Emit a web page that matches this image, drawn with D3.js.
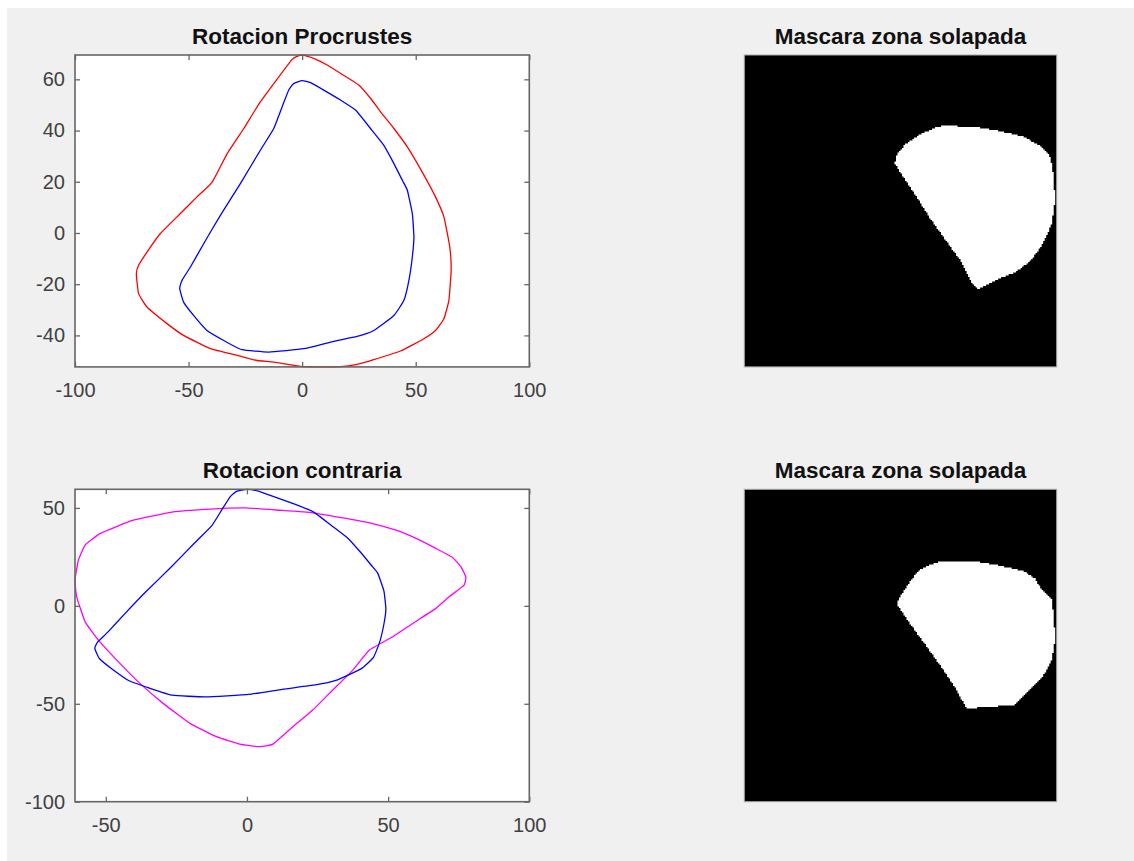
<!DOCTYPE html>
<html>
<head>
<meta charset="utf-8">
<script src="https://cdn.jsdelivr.net/npm/d3@7/dist/d3.min.js"></script>
<style>
  html, body { margin: 0; padding: 0; background: #ffffff; }
  svg { display: block; }
  .tick text { font-family: "Liberation Sans", Arial, Helvetica, sans-serif; }
</style>
</head>
<body>
<svg id="fig" width="1134" height="861"></svg>
<script>
// ---- Contours (x, y) ----
// Outer contour after Procrustes rotation (red)
const procrustesContour = [
  [0, 69.5], [5.1, 68.2], [11.0, 65.6], [16.9, 62.3], [24.9, 57.8], [30.1, 52.6],
  [34.5, 47.3], [40.4, 40.8], [46.3, 33.6], [53.6, 22.6], [58.7, 14.1], [62.4, 6.3],
  [65.0, -5.5], [65.6, -14.6], [64.6, -26.3], [62.4, -33.5], [58.7, -38.1], [53.6, -41.3],
  [43.3, -46.1], [31.5, -49.5], [24.2, -51.3], [16.9, -52.2], [6.6, -52.3], [-0.7, -52.1],
  [-12.5, -50.4], [-19.8, -49.8], [-28.6, -47.8], [-40.4, -45.2], [-52.2, -40.0],
  [-59.5, -35.4], [-68.3, -28.9], [-72.0, -23.7], [-73.0, -15.9], [-72.0, -12.6],
  [-66.8, -5.5], [-62.4, -0.2], [-53.6, 7.6], [-46.3, 14.1], [-39.6, 19.9], [-33.0, 31.0],
  [-25.7, 40.8], [-18.4, 51.2], [-4.4, 67.8]
];

// Reference contour (blue), shared by both plots
const referenceContour = [
  [0, 59.5], [3.7, 58.7], [9.5, 55.8], [16.9, 51.9], [23.5, 48.0], [30.1, 40.8],
  [35.9, 34.3], [40.4, 27.1], [44.1, 20.6], [46.3, 16.7], [48.5, 7.6], [49.2, -1.6],
  [48.5, -9.4], [47.0, -18.5], [44.8, -26.3], [40.4, -32.2], [31.5, -38.1], [24.2, -40.4],
  [12.5, -42.6], [0.7, -45.2], [-14.7, -46.5], [-26.4, -45.6], [-34.5, -42.0],
  [-41.9, -38.1], [-47.8, -32.2], [-52.2, -27.0], [-53.9, -21.7], [-52.9, -18.5],
  [-49.2, -13.3], [-43.3, -4.1], [-36.0, 6.9], [-27.2, 19.3], [-18.4, 32.3],
  [-12.5, 40.8], [-8.8, 49.3], [-5.9, 55.8], [-3.7, 58.4]
];

// Contour after the opposite rotation (magenta)
const contraryContour = [
  [-0.8, 50.0], [11.6, 48.8], [23.3, 47.5], [35.1, 44.6], [44.5, 42.0], [52.8, 38.6],
  [59.9, 34.4], [66.9, 29.3], [72.8, 24.7], [75.8, 19.9], [77.5, 14.8], [76.9, 10.6],
  [71.6, 4.6], [66.9, -1.3], [58.7, -9.0], [51.6, -15.8], [43.4, -22.6], [37.5, -32.8],
  [30.4, -43.0], [23.3, -53.2], [16.3, -61.7], [9.2, -70.6], [4.5, -71.9], [-2.6, -70.6],
  [-10.8, -66.8], [-20.2, -60.0], [-29.7, -49.8], [-37.9, -39.6], [-46.1, -27.7],
  [-52.6, -17.5], [-57.3, -8.2], [-60.3, 4.6], [-60.9, 13.1], [-59.7, 23.3],
  [-57.3, 31.0], [-52.0, 36.9], [-40.3, 43.7], [-26.1, 48.0], [-14.3, 49.3]
];

// Overlap masks, outline in image units (0..100, origin top-left)
const maskProcrustes = [
  [48.2, 34.7], [48.8, 32.0], [51.4, 28.8], [55.2, 26.1], [60.5, 23.5], [63.7, 22.7],
  [73.3, 23.0], [80.8, 24.2], [89.3, 26.1], [95.2, 29.4], [97.9, 32.6], [98.9, 37.9],
  [99.5, 46.4], [98.4, 54.1], [95.7, 60.3], [92.0, 65.6], [87.2, 69.4], [80.8, 72.0],
  [74.9, 75.0], [73.3, 73.6], [71.7, 71.0], [69.0, 65.6], [64.8, 59.8], [59.4, 52.3],
  [54.1, 43.8], [49.8, 37.4]
];
const maskContrary = [
  [48.8, 36.5], [49.8, 34.4], [53.0, 29.6], [56.2, 25.6], [59.4, 24.2], [63.2, 22.9],
  [73.3, 22.9], [80.8, 24.2], [89.3, 26.1], [93.1, 28.5], [95.2, 32.2], [98.4, 35.4],
  [99.1, 40.8], [99.5, 48.2], [98.4, 54.6], [96.3, 58.9], [92.5, 63.2], [89.3, 66.4],
  [86.7, 69.0], [77.6, 69.8], [71.2, 70.1], [69.6, 67.4], [68.0, 64.2], [63.7, 57.8],
  [58.4, 50.4], [53.0, 42.9], [49.8, 38.1]
];

// ---- Tick values ----
const topXTicks = [-100, -50, 0, 50, 100];
const topYTicks = [-40, -20, 0, 20, 40, 60];
const bottomXTicks = [-50, 0, 50, 100];
const bottomYTicks = [-100, -50, 0, 50];

// ---- Titles ----
const titles = ["Rotacion Procrustes", "Mascara zona solapada", "Rotacion contraria", "Mascara zona solapada"];

// ---- Figure ----
const svg = d3.select("#fig");
const FONT = '"Liberation Sans", Arial, Helvetica, sans-serif';
const AXIS_COLOR = "#666666";
const TEXT_COLOR = "#404040";
const plainNumber = d => String(d); // ASCII hyphen for negatives

svg.append("rect").attr("x", 7).attr("y", 8).attr("width", 1127).attr("height", 853).attr("fill", "#f0f0f0");

const leftBox = { x0: 75, x1: 529.3 };
const rightBox = { x0: 744.3, x1: 1056.7 };
const rows = [{ y0: 55, y1: 366.9 }, { y0: 489.3, y1: 801.7 }];

function drawTitle(text, x0, x1, y0) {
  svg.append("text")
    .attr("x", (x0 + x1) / 2).attr("y", y0 - 11)
    .attr("text-anchor", "middle")
    .attr("font-family", FONT).attr("font-weight", "bold").attr("font-size", 22.5)
    .attr("fill", "#111").text(text);
}

function drawPlot(box, row, xDomain, yDomain, xTicks, yTicks, curves, title) {
  const x = d3.scaleLinear().domain(xDomain).range([box.x0, box.x1]);
  const y = d3.scaleLinear().domain(yDomain).range([row.y1, row.y0]);
  const g = svg.append("g");

  g.append("rect")
    .attr("x", box.x0).attr("y", row.y0)
    .attr("width", box.x1 - box.x0).attr("height", row.y1 - row.y0)
    .attr("fill", "#fff");

  const clipId = "clip" + Math.round(row.y0);
  g.append("clipPath").attr("id", clipId).append("rect")
    .attr("x", box.x0 - 1).attr("y", row.y0 - 1)
    .attr("width", box.x1 - box.x0 + 2).attr("height", row.y1 - row.y0 + 2);

  const line = d3.line().x(d => x(d[0])).y(d => y(d[1])).curve(d3.curveCardinalClosed.tension(0.6));
  const cg = g.append("g").attr("clip-path", `url(#${clipId})`);
  curves.forEach(c => {
    cg.append("path").datum(c.data)
      .attr("d", line)
      .attr("fill", "none")
      .attr("stroke", c.color)
      .attr("stroke-width", 1.3)
      .attr("stroke-linejoin", "round");
  });

  const styleAxis = (sel, labels) => {
    sel.select(".domain").remove();
    sel.selectAll(".tick line").attr("stroke", AXIS_COLOR).attr("stroke-width", 1.3);
    sel.selectAll(".tick text")
      .attr("font-family", FONT).attr("font-size", 20).attr("fill", TEXT_COLOR);
    if (!labels) sel.selectAll(".tick text").remove();
  };

  g.append("g").attr("transform", `translate(0,${row.y1})`)
    .call(d3.axisBottom(x).tickValues(xTicks).tickSize(-5).tickPadding(16).tickFormat(plainNumber))
    .call(s => styleAxis(s, true));
  g.append("g").attr("transform", `translate(0,${row.y0})`)
    .call(d3.axisTop(x).tickValues(xTicks).tickSize(-5))
    .call(s => styleAxis(s, false));
  g.append("g").attr("transform", `translate(${box.x0},0)`)
    .call(d3.axisLeft(y).tickValues(yTicks).tickSize(-5).tickPadding(10).tickFormat(plainNumber))
    .call(s => styleAxis(s, true));
  g.append("g").attr("transform", `translate(${box.x1},0)`)
    .call(d3.axisRight(y).tickValues(yTicks).tickSize(-5))
    .call(s => styleAxis(s, false));

  g.append("rect")
    .attr("x", box.x0).attr("y", row.y0)
    .attr("width", box.x1 - box.x0).attr("height", row.y1 - row.y0)
    .attr("fill", "none").attr("stroke", AXIS_COLOR).attr("stroke-width", 1.6);

  drawTitle(title, box.x0, box.x1, row.y0);
}

// Binary mask drawn as a raster of cells; horizontal runs of white cells
// are merged into one path so neighbouring rows join without seams
function drawMask(box, row, outline, title) {
  const N = 208;
  const sx = d3.scaleLinear().domain([0, 100]).range([box.x0, box.x1]);
  const sy = d3.scaleLinear().domain([0, 100]).range([row.y0, row.y1]);
  const g = svg.append("g");
  g.append("rect")
    .attr("x", sx(0)).attr("y", sy(0))
    .attr("width", sx(100) - sx(0)).attr("height", sy(100) - sy(0))
    .attr("fill", "#000").attr("stroke", "#a8a8a8").attr("stroke-width", 1);

  const step = 100 / N;
  const runs = [];
  for (let j = 0; j < N; j++) {
    const v = (j + 0.5) * step;
    let start = -1;
    for (let i = 0; i <= N; i++) {
      const inside = i < N && d3.polygonContains(outline, [(i + 0.5) * step, v]);
      if (inside && start < 0) start = i;
      if (!inside && start >= 0) { runs.push({ i0: start, i1: i, j }); start = -1; }
    }
  }
  const p = d3.path();
  runs.forEach(d => {
    const x0 = sx(d.i0 * step), x1 = sx(d.i1 * step);
    const y0 = sy(d.j * step), y1 = sy((d.j + 1) * step);
    p.rect(x0, y0, x1 - x0, y1 - y0);
  });
  g.append("path").attr("d", p.toString()).attr("fill", "#fff");

  drawTitle(title, box.x0, box.x1, row.y0);
}

// Top-left: Procrustes rotation
const topY = d3.extent(procrustesContour.concat(referenceContour), d => d[1]);
drawPlot(leftBox, rows[0], [-100, 100], topY, topXTicks, topYTicks,
  [{ data: procrustesContour, color: "#ff0000" }, { data: referenceContour, color: "#0000ff" }],
  titles[0]);

// Bottom-left: opposite rotation
const allBottom = contraryContour.concat(referenceContour);
drawPlot(leftBox, rows[1],
  [d3.min(allBottom, d => d[0]), 100], [-100, d3.max(allBottom, d => d[1])],
  bottomXTicks, bottomYTicks,
  [{ data: contraryContour, color: "#ff00ff" }, { data: referenceContour, color: "#0000ff" }],
  titles[2]);

drawMask(rightBox, rows[0], maskProcrustes, titles[1]);
drawMask(rightBox, rows[1], maskContrary, titles[3]);
</script>
</body>
</html>
